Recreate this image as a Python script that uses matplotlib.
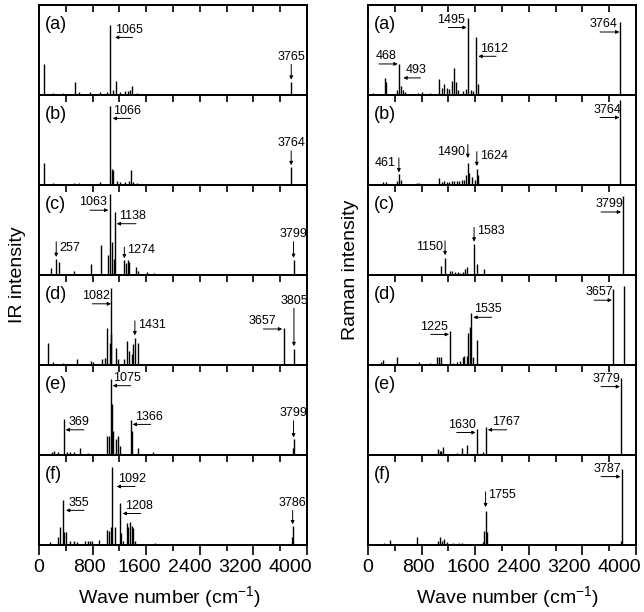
import numpy as np
import matplotlib
matplotlib.use("Agg")
import matplotlib.pyplot as plt
from matplotlib.ticker import FixedLocator
from matplotlib.transforms import ScaledTranslation

plt.rcParams['font.family'] = ['Liberation Sans', 'DejaVu Sans']
plt.rcParams['mathtext.default'] = 'regular'

# ---- data: stick spectra (wave number in cm-1, relative intensity) ----
panel_labels = ['(a)', '(b)', '(c)', '(d)', '(e)', '(f)']
x_ticks_major = [0, 800, 1600, 2400, 3200, 4000]

ir_a_pos = [75, 214, 363, 533, 597, 761, 910, 1010, 1065, 1100, 1145, 1209, 1284, 1333, 1365, 1393, 1458, 3765]
ir_a_int = [0.35, 0.02, 0.02, 0.15, 0.03, 0.03, 0.03, 0.03, 0.78, 0.06, 0.16, 0.03, 0.04, 0.04, 0.06, 0.10, 0.02, 0.15]

ir_b_pos = [75, 214, 522, 597, 910, 1066, 1085, 1100, 1160, 1215, 1284, 1340, 1369, 1400, 1458, 3764]
ir_b_int = [0.25, 0.02, 0.02, 0.02, 0.03, 0.88, 0.18, 0.17, 0.04, 0.03, 0.03, 0.05, 0.165, 0.03, 0.02, 0.20]

ir_c_pos = [174, 257, 299, 522, 771, 926, 1035, 1063, 1085, 1115, 1138, 1274, 1299, 1323, 1343, 1443, 1483, 1607, 1717, 3799]
ir_c_int = [0.08, 0.18, 0.15, 0.04, 0.12, 0.33, 0.22, 0.90, 0.37, 0.18, 0.70, 0.17, 0.13, 0.17, 0.15, 0.09, 0.04, 0.03, 0.02, 0.17]

ir_d_pos = [139, 214, 363, 562, 771, 800, 936, 985, 1015, 1060, 1075, 1082, 1145, 1185, 1269, 1318, 1348, 1388, 1408, 1431, 1473, 3657, 3805]
ir_d_int = [0.25, 0.03, 0.02, 0.07, 0.05, 0.03, 0.07, 0.08, 0.41, 0.25, 0.34, 0.86, 0.19, 0.07, 0.07, 0.27, 0.16, 0.12, 0.23, 0.30, 0.24, 0.41, 0.18]

ir_e_pos = [189, 224, 289, 369, 413, 465, 522, 612, 737, 1020, 1050, 1075, 1090, 1110, 1144, 1180, 1210, 1366, 1385, 1473, 1707, 3790, 3799]
ir_e_int = [0.03, 0.045, 0.03, 0.40, 0.03, 0.03, 0.03, 0.075, 0.02, 0.21, 0.21, 0.85, 0.57, 0.27, 0.18, 0.21, 0.10, 0.39, 0.27, 0.075, 0.03, 0.08, 0.18]

ir_f_pos = [164, 289, 313, 355, 370, 403, 463, 517, 567, 687, 724, 762, 792, 900, 1010, 1040, 1075, 1092, 1130, 1208, 1225, 1259,
            1309, 1333, 1359, 1383, 1408, 1433, 1732, 3780, 3786]
ir_f_int = [0.03, 0.09, 0.20, 0.50, 0.15, 0.15, 0.05, 0.04, 0.03, 0.04, 0.05, 0.05, 0.05, 0.06, 0.17, 0.16, 0.20, 0.87, 0.20, 0.47, 0.13, 0.05,
            0.245, 0.20, 0.26, 0.21, 0.19, 0.05, 0.02, 0.09, 0.21]

ra_a_pos = [80, 254, 274, 428, 468, 498, 528, 558, 751, 801, 926, 1065, 1100, 1140, 1175, 1209, 1249, 1279, 1309, 1349, 1424, 1458,
            1495, 1533, 1568, 1612, 1637, 3764]
ra_a_int = [0.02, 0.19, 0.14, 0.06, 0.34, 0.10, 0.06, 0.03, 0.025, 0.03, 0.025, 0.18, 0.08, 0.12, 0.08, 0.07, 0.16, 0.30, 0.14, 0.06, 0.045, 0.065,
            0.86, 0.055, 0.04, 0.64, 0.12, 0.81]

ra_b_pos = [229, 264, 438, 461, 488, 727, 766, 1065, 1100, 1140, 1175, 1214, 1249, 1284, 1324, 1364, 1399, 1434, 1458, 1490, 1513,
            1548, 1597, 1624, 1637, 3764]
ra_b_int = [0.03, 0.03, 0.04, 0.12, 0.06, 0.02, 0.02, 0.08, 0.03, 0.04, 0.03, 0.03, 0.04, 0.04, 0.04, 0.05, 0.055, 0.06, 0.11, 0.24, 0.13,
            0.085, 0.06, 0.18, 0.11, 0.94]

ra_c_pos = [254, 766, 1085, 1150, 1224, 1259, 1299, 1339, 1374, 1413, 1448, 1478, 1583, 1622, 1732, 3799]
ra_c_int = [0.01, 0.01, 0.10, 0.19, 0.05, 0.04, 0.03, 0.03, 0.02, 0.03, 0.065, 0.085, 0.34, 0.12, 0.065, 0.88]

ra_d_pos = [194, 229, 428, 766, 930, 1025, 1055, 1085, 1225, 1274, 1324, 1374, 1413, 1438, 1473, 1498, 1523, 1535, 1573, 1622, 3657, 3822]
ra_d_int = [0.03, 0.06, 0.09, 0.03, 0.02, 0.09, 0.09, 0.09, 0.38, 0.02, 0.03, 0.05, 0.09, 0.10, 0.10, 0.36, 0.42, 0.58, 0.09, 0.28, 0.85, 0.88]

ra_e_pos = [229, 388, 687, 1050, 1075, 1095, 1125, 1224, 1324, 1399, 1483, 1630, 1722, 1767, 3779]
ra_e_int = [0.015, 0.015, 0.008, 0.065, 0.045, 0.04, 0.09, 0.015, 0.025, 0.075, 0.11, 0.29, 0.035, 0.31, 0.86]

ra_f_pos = [234, 324, 737, 1050, 1075, 1105, 1135, 1175, 1274, 1364, 1399, 1722, 1737, 1755, 1772, 3779, 3787]
ra_f_int = [0.02, 0.06, 0.085, 0.04, 0.085, 0.05, 0.07, 0.03, 0.02, 0.02, 0.02, 0.03, 0.16, 0.38, 0.15, 0.04, 0.85]

ir_pos = [ir_a_pos, ir_b_pos, ir_c_pos, ir_d_pos, ir_e_pos, ir_f_pos]
ir_int = [ir_a_int, ir_b_int, ir_c_int, ir_d_int, ir_e_int, ir_f_int]
ra_pos = [ra_a_pos, ra_b_pos, ra_c_pos, ra_d_pos, ra_e_pos, ra_f_pos]
ra_int = [ra_a_int, ra_b_int, ra_c_int, ra_d_int, ra_e_int, ra_f_int]

# ---- annotation layout: (label, x_tail, y_tail, x_head, y_head, text_x, text_y, ha, va) ----
ir_notes = [
    [("1065", 1398, 0.64, 1135, 0.64, 1135, 0.66, 'left', 'bottom'),
     ("3765", 3765, 0.34, 3765, 0.17, 3765, 0.36, 'center', 'bottom')],
    [("1066", 1369, 0.74, 1100, 0.74, 1100, 0.76, 'left', 'bottom'),
     ("3764", 3764, 0.38, 3764, 0.22, 3764, 0.40, 'center', 'bottom')],
    [("1063", 761, 0.72, 1035, 0.72, 1010, 0.74, 'right', 'bottom'),
     ("1138", 1448, 0.57, 1160, 0.57, 1200, 0.59, 'left', 'bottom'),
     ("257", 257, 0.37, 257, 0.20, 300, 0.30, 'left', 'center'),
     ("1274", 1274, 0.31, 1274, 0.185, 1309, 0.28, 'left', 'center'),
     ("3799", 3799, 0.37, 3799, 0.19, 3799, 0.39, 'center', 'bottom')],
    [("1082", 796, 0.68, 1075, 0.68, 1060, 0.70, 'right', 'bottom'),
     ("1431", 1431, 0.49, 1431, 0.33, 1473, 0.45, 'left', 'center'),
     ("3657", 3349, 0.40, 3630, 0.40, 3548, 0.42, 'right', 'bottom'),
     ("3805", 3805, 0.63, 3805, 0.21, 3805, 0.65, 'center', 'bottom')],
    [("1075", 1369, 0.77, 1100, 0.77, 1100, 0.79, 'left', 'bottom'),
     ("369", 672, 0.28, 398, 0.28, 438, 0.30, 'left', 'bottom'),
     ("1366", 1667, 0.34, 1398, 0.34, 1433, 0.36, 'left', 'bottom'),
     ("3799", 3799, 0.38, 3799, 0.195, 3799, 0.40, 'center', 'bottom')],
    [("1092", 1433, 0.65, 1160, 0.65, 1184, 0.67, 'left', 'bottom'),
     ("355", 672, 0.385, 403, 0.385, 438, 0.405, 'left', 'bottom'),
     ("1208", 1518, 0.35, 1249, 0.35, 1284, 0.37, 'left', 'bottom'),
     ("3786", 3786, 0.385, 3786, 0.23, 3786, 0.40, 'center', 'bottom')],
]

ra_notes = [
    [("1495", 1199, 0.75, 1473, 0.75, 1448, 0.77, 'right', 'bottom'),
     ("1612", 1911, 0.43, 1647, 0.43, 1672, 0.45, 'left', 'bottom'),
     ("468", 164, 0.345, 443, 0.345, 119, 0.365, 'left', 'bottom'),
     ("493", 786, 0.19, 528, 0.19, 567, 0.21, 'left', 'bottom'),
     ("3764", 3464, 0.70, 3752, 0.70, 3314, 0.72, 'left', 'bottom')],
    [("461", 461, 0.30, 461, 0.14, 418, 0.24, 'right', 'center'),
     ("1490", 1490, 0.45, 1490, 0.30, 1455, 0.37, 'right', 'center'),
     ("1624", 1624, 0.37, 1624, 0.21, 1672, 0.32, 'left', 'center'),
     ("3764", 3464, 0.75, 3752, 0.75, 3364, 0.77, 'left', 'bottom')],
    [("1150", 1150, 0.38, 1150, 0.22, 1125, 0.315, 'right', 'center'),
     ("1583", 1583, 0.53, 1583, 0.37, 1632, 0.49, 'left', 'center'),
     ("3799", 3479, 0.70, 3777, 0.70, 3389, 0.72, 'left', 'bottom')],
    [("1225", 936, 0.34, 1209, 0.34, 776, 0.36, 'left', 'bottom'),
     ("1535", 1846, 0.53, 1572, 0.53, 1583, 0.55, 'left', 'bottom'),
     ("3657", 3374, 0.72, 3640, 0.72, 3240, 0.74, 'left', 'bottom')],
    [("1630", 1324, 0.25, 1607, 0.25, 1199, 0.27, 'left', 'bottom'),
     ("1767", 2070, 0.28, 1787, 0.28, 1846, 0.30, 'left', 'bottom'),
     ("3779", 3479, 0.76, 3760, 0.76, 3354, 0.78, 'left', 'bottom')],
    [("1755", 1755, 0.59, 1755, 0.42, 1796, 0.55, 'left', 'center'),
     ("3787", 3479, 0.76, 3770, 0.76, 3364, 0.78, 'left', 'bottom')],
]


def draw_panel(ax, pos, inten, label, notes, is_bottom):
    """One stick spectrum with its annotations"""
    ax.vlines(pos, 0, inten, colors='black', linewidth=1.0)
    ax.set_xlim(0, 4000)
    ax.set_ylim(0, 1)
    ax.set_yticks([])
    for s in ax.spines.values():
        s.set_linewidth(1.4)

    # top ticks point into the panel
    top = ax.secondary_xaxis('top')
    top.set_xticks(np.arange(0, 4001, 400))
    top.tick_params(direction='in', length=5, width=1.2, labeltop=False)
    top.spines['top'].set_linewidth(1.4)

    if is_bottom:
        ax.xaxis.set_major_locator(FixedLocator(x_ticks_major))
        ax.xaxis.set_minor_locator(FixedLocator(np.arange(400, 4000, 800)))
        ax.set_xticklabels([str(v) for v in x_ticks_major])
        ax.tick_params(axis='x', which='major', direction='out', length=7, width=1.2, labelsize=14, pad=3)
        ax.tick_params(axis='x', which='minor', direction='out', length=4.5, width=1.2)
        # labels in the original sit a little left of their ticks, more so to the right
        for v, lab in zip(x_ticks_major, ax.get_xticklabels()):
            dx = -v / 4000 * 17 / 100
            lab.set_transform(lab.get_transform() + ScaledTranslation(dx, 0, fig.dpi_scale_trans))
    else:
        ax.tick_params(axis='x', which='both', bottom=False, labelbottom=False)

    ax.text(0.022, 0.78, label, transform=ax.transAxes, fontsize=13, ha='left', va='center')

    for txt, xt, yt, xh, yh, tx, ty, ha, va in notes:
        ax.annotate('', xy=(xh, yh), xytext=(xt, yt),
                    arrowprops=dict(arrowstyle='-|>', lw=0.7, color='black',
                                    shrinkA=0, shrinkB=0, mutation_scale=5))
        ax.text(tx, ty, txt, fontsize=9, ha=ha, va=va)


fig = plt.figure(figsize=(6.44, 6.12), dpi=100)

left_x = [39 / 644, 368 / 644]
width = 268 / 644
top_y = 1 - 5 / 612
panel_h = (540 / 612) / 6

for col, (all_pos, all_int, all_notes) in enumerate([(ir_pos, ir_int, ir_notes), (ra_pos, ra_int, ra_notes)]):
    for i in range(6):
        ax = fig.add_axes([left_x[col], top_y - (i + 1) * panel_h, width, panel_h])
        draw_panel(ax, all_pos[i], all_int[i], panel_labels[i], all_notes[i], i == 5)

fig.text(18 / 644, 1 - 275 / 612, 'IR intensity', rotation=90, fontsize=14, ha='center', va='center')
fig.text(351 / 644, 1 - 270 / 612, 'Raman intensity', rotation=90, fontsize=14, ha='center', va='center')
fig.text(169 / 644, 1 - 597 / 612, 'Wave number (cm$^{-1}$)', fontsize=14, ha='center', va='center')
fig.text(507 / 644, 1 - 597 / 612, 'Wave number (cm$^{-1}$)', fontsize=14, ha='center', va='center')

fig.savefig('out.png', dpi=100)
